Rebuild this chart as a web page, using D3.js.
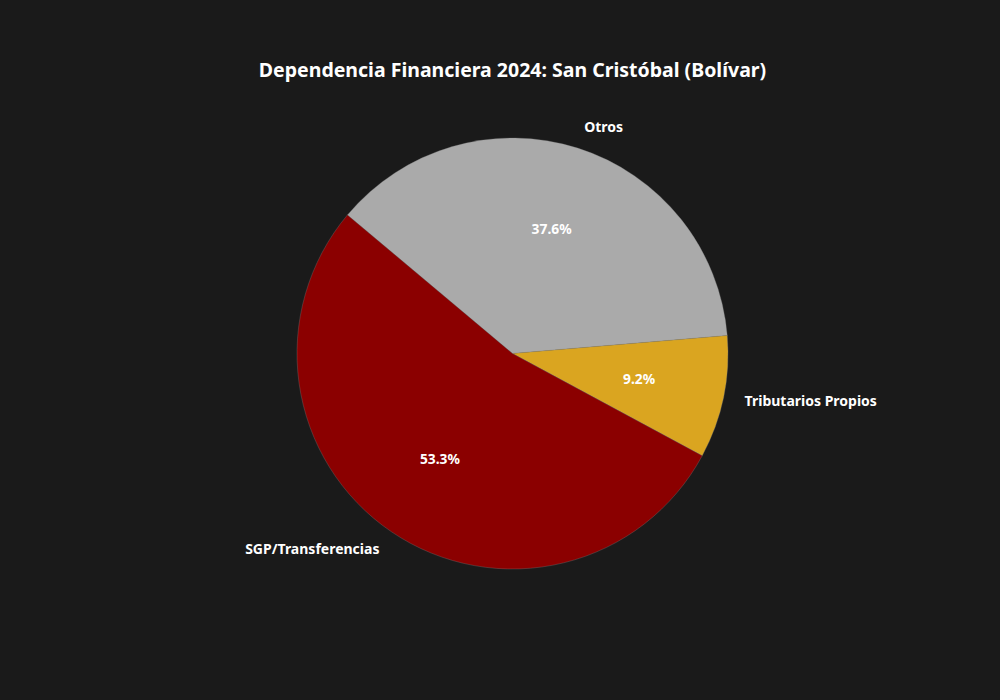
<!DOCTYPE html>
<html>
<head>
<meta charset="utf-8">
<script src="https://cdn.jsdelivr.net/npm/d3@7"></script>
<style>
  body { margin: 0; background: #1a1a1a; }
  svg text { font-family: "Noto Sans", "Open Sans", sans-serif; font-weight: bold; fill: #ffffff; }
</style>
</head>
<body>
<svg id="canvas" width="1000" height="700"></svg>
<script>
let categories = ['Otros', 'Tributarios Propios', 'SGP/Transferencias']
let values = [37.6, 9.2, 53.3]
let colors = ['#aaaaaa', '#daa520', '#8b0000']

let width = 1000
let height = 700
let cx = 512.5
let cy = 353.5
let radius = 215.5

let canvas = d3.select('#canvas')

canvas.append('rect')
    .attr('width', width)
    .attr('height', height)
    .attr('fill', '#1a1a1a')

canvas.append('text')
    .text('Dependencia Financiera 2024: San Cristóbal (Bolívar)')
    .attr('x', cx)
    .attr('y', 69)
    .attr('text-anchor', 'middle')
    .attr('dominant-baseline', 'central')
    .style('font-size', '19.5px')

let startAngle = -50 * Math.PI / 180

let pie = d3.pie()
    .value((d) => d)
    .sort(null)
    .startAngle(startAngle)
    .endAngle(startAngle + 2 * Math.PI)

let arcs = pie(values)

let arc = d3.arc()
    .innerRadius(0)
    .outerRadius(radius)

let g = canvas.append('g')
    .attr('transform', 'translate(' + cx + ', ' + cy + ')')

g.selectAll('path')
    .data(arcs)
    .enter()
    .append('path')
    .attr('d', arc)
    .attr('fill', (d, i) => colors[i])
    .attr('stroke', '#888888')
    .attr('stroke-width', 0.3)

let mid = (d) => (d.startAngle + d.endAngle) / 2

// percentages inside, at 0.6 of radius
g.selectAll('.pct')
    .data(arcs)
    .enter()
    .append('text')
    .attr('class', 'pct')
    .text((d) => d.value.toFixed(1) + '%')
    .attr('x', (d) => Math.sin(mid(d)) * radius * 0.6)
    .attr('y', (d) => -Math.cos(mid(d)) * radius * 0.6)
    .attr('dy', -1.5)
    .attr('text-anchor', 'middle')
    .attr('dominant-baseline', 'central')
    .style('font-size', '13.8px')

// category labels outside, at 1.1 of radius
g.selectAll('.lbl')
    .data(arcs)
    .enter()
    .append('text')
    .attr('class', 'lbl')
    .text((d, i) => categories[i])
    .attr('x', (d) => Math.sin(mid(d)) * radius * 1.1)
    .attr('y', (d) => -Math.cos(mid(d)) * radius * 1.1)
    .attr('dy', -1.5)
    .attr('text-anchor', (d) => Math.sin(mid(d)) > 0 ? 'start' : 'end')
    .attr('dominant-baseline', 'central')
    .style('font-size', '14px')
</script>
</body>
</html>
